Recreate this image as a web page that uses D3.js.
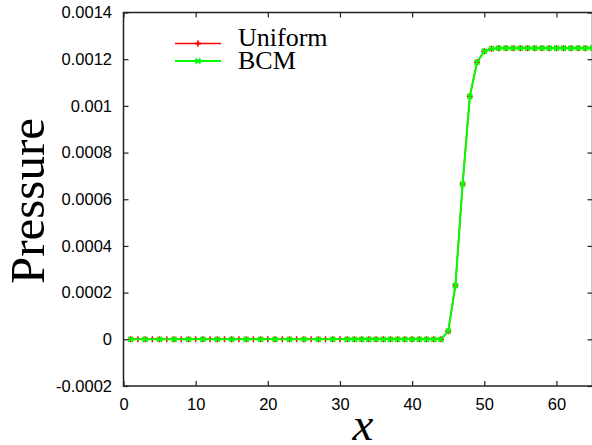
<!DOCTYPE html>
<html>
<head>
<meta charset="utf-8">
<script src="https://cdn.jsdelivr.net/npm/d3@7"></script>
<style>
  body { margin: 0; background: #fff; }
  svg { display: block; }
  .tick text { font-family: "Liberation Sans", Arial, sans-serif; font-size: 16.5px; fill: #000; }
  .tick line { stroke: #222; stroke-width: 1.2; }
</style>
</head>
<body>
<div id="chart"></div>
<script>
var svgWidth = 592;
var svgHeight = 445;

// Uniform mesh: one point per unit
var uniformX = [1,2,3,4,5,6,7,8,9,10,11,12,13,14,15,16,17,18,19,20,21,22,23,24,25,26,27,28,29,30,
  31,32,33,34,35,36,37,38,39,40,41,42,43,44,45,46,47,48,49,50,51,52,53,54,55,56,57,58,59,60,
  61,62,63,64,65];
var uniformP = [0,0,0,0,0,0,0,0,0,0,0,0,0,0,0,0,0,0,0,0,0,0,0,0,0,0,0,0,0,0,
  0,0,0,0,0,0,0,0,0,0,0,0,0,0,0.000035,0.000230,0.000665,0.001041,0.001187,0.001234,
  0.001245,0.001247,0.001247,0.001247,0.001247,0.001247,0.001247,0.001247,0.001247,0.001247,
  0.001247,0.001247,0.001247,0.001247,0.001247];

// BCM: coarse cells on the left, fine cells near the jump
var bcmX = [1,3,5,7,9,11,13,15,17,19,21,23,25,27,29,31,
  32,33,34,35,36,37,38,39,40,41,42,43,44,45,46,47,48,49,50,51,52,53,54,55,56,57,58,59,60,
  61,62,63,64,65];
var bcmP = [0,0,0,0,0,0,0,0,0,0,0,0,0,0,0,0,
  0,0,0,0,0,0,0,0,0,0,0,0,0,0.000035,0.000230,0.000665,0.001041,0.001187,0.001234,
  0.001245,0.001247,0.001247,0.001247,0.001247,0.001247,0.001247,0.001247,0.001247,0.001247,
  0.001247,0.001247,0.001247,0.001247,0.001247];

var xTicks = [0, 10, 20, 30, 40, 50, 60];
var yTicks = [-0.0002, 0, 0.0002, 0.0004, 0.0006, 0.0008, 0.001, 0.0012, 0.0014];
var yTickLabels = ["-0.0002", "0", "0.0002", "0.0004", "0.0006", "0.0008", "0.001", "0.0012", "0.0014"];

var seriesNames = ["Uniform", "BCM"];
var seriesColors = ["#ff0000", "#00ff00"];

var plot = { left: 123.5, right: 592.5, top: 12.5, bottom: 386 };

var svg = d3.select("#chart")
  .append("svg")
  .attr("width", svgWidth)
  .attr("height", svgHeight);

var xScale = d3.scaleLinear()
  .domain([0, 65])
  .range([plot.left, plot.right]);

var yScale = d3.scaleLinear()
  .domain([-0.0002, 0.0014])
  .range([plot.bottom, plot.top]);

// axes, gnuplot style: inward ticks mirrored on all sides
var bottomAxis = d3.axisBottom(xScale).tickValues(xTicks).tickFormat(d3.format("d"))
  .tickSizeInner(-5).tickSizeOuter(0).tickPadding(12);
var topAxis = d3.axisTop(xScale).tickValues(xTicks).tickFormat("")
  .tickSizeInner(-5).tickSizeOuter(0);
var leftAxis = d3.axisLeft(yScale).tickValues(yTicks)
  .tickFormat(function(d, i) { return yTickLabels[i]; })
  .tickSizeInner(-5).tickSizeOuter(0).tickPadding(11.5);
var rightAxis = d3.axisRight(yScale).tickValues(yTicks).tickFormat("")
  .tickSizeInner(-5).tickSizeOuter(0);

svg.append("g").attr("transform", `translate(0, ${plot.bottom})`).call(bottomAxis);
svg.append("g").attr("transform", `translate(0, ${plot.top})`).call(topAxis);
svg.append("g").attr("transform", `translate(${plot.left}, 0)`).call(leftAxis);
svg.append("g").attr("transform", `translate(${plot.right}, 0)`).call(rightAxis);
svg.selectAll(".domain").remove();

// plot border
svg.append("rect")
  .attr("x", plot.left)
  .attr("y", plot.top)
  .attr("width", plot.right - plot.left)
  .attr("height", plot.bottom - plot.top)
  .attr("fill", "none")
  .attr("stroke", "#222")
  .attr("stroke-width", 1.5);

// axis titles
svg.append("text")
  .attr("transform", "translate(44, 201) rotate(-90)")
  .attr("text-anchor", "middle")
  .style("font-family", "'Liberation Serif', 'Times New Roman', serif")
  .style("font-size", "49px")
  .text("Pressure");

svg.append("text")
  .attr("x", 363)
  .attr("y", 440)
  .attr("text-anchor", "middle")
  .style("font-family", "'Liberation Serif', 'Times New Roman', serif")
  .style("font-style", "italic")
  .style("font-size", "47px")
  .text("x");

var line = d3.line()
  .x(d => xScale(d[0]))
  .y(d => yScale(d[1]));

var uniformData = uniformX.map((x, i) => [x, uniformP[i]]);
var bcmData = bcmX.map((x, i) => [x, bcmP[i]]);

// marker shapes: "+" for Uniform, "x" for BCM
function plusPath(cx, cy, s) {
  return `M${cx - s},${cy}H${cx + s}M${cx},${cy - s}V${cy + s}`;
}
function crossPath(cx, cy, s) {
  return `M${cx - s},${cy - s}L${cx + s},${cy + s}M${cx - s},${cy + s}L${cx + s},${cy - s}`;
}

var chartGroup = svg.append("g");

chartGroup.append("path")
  .datum(uniformData)
  .attr("d", line)
  .attr("fill", "none")
  .attr("stroke", seriesColors[0])
  .attr("stroke-width", 1.5);

chartGroup.selectAll(".uniMark")
  .data(uniformData)
  .enter()
  .append("path")
  .classed("uniMark", true)
  .attr("d", d => plusPath(xScale(d[0]), yScale(d[1]), 3))
  .attr("stroke", seriesColors[0])
  .attr("stroke-width", 1.5);

chartGroup.append("path")
  .datum(bcmData)
  .attr("d", line)
  .attr("fill", "none")
  .attr("stroke", seriesColors[1])
  .attr("stroke-width", 2);

chartGroup.selectAll(".bcmMark")
  .data(bcmData)
  .enter()
  .append("path")
  .classed("bcmMark", true)
  .attr("d", d => crossPath(xScale(d[0]), yScale(d[1]), 2.5))
  .attr("stroke", seriesColors[1])
  .attr("stroke-width", 1.8);

// legend
var legend = svg.append("g");
var legendY = [43.5, 61];
var legendText = [45.5, 69];
seriesNames.forEach(function(name, i) {
  legend.append("line")
    .attr("x1", 175).attr("x2", 221)
    .attr("y1", legendY[i]).attr("y2", legendY[i])
    .attr("stroke", seriesColors[i])
    .attr("stroke-width", i === 0 ? 1.5 : 2);
  legend.append("path")
    .attr("d", i === 0 ? plusPath(198, legendY[i], 3) : crossPath(198, legendY[i], 2.5))
    .attr("stroke", seriesColors[i])
    .attr("stroke-width", 1.8);
  legend.append("text")
    .attr("x", 238)
    .attr("y", legendText[i])
    .style("font-family", "'Liberation Serif', 'Times New Roman', serif")
    .style("font-size", "26px")
    .text(name);
});
</script>
</body>
</html>
